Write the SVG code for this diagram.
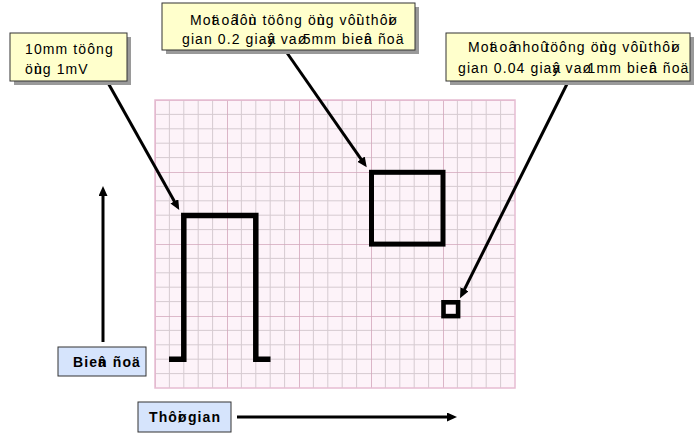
<svg xmlns="http://www.w3.org/2000/svg" width="695" height="433" viewBox="0 0 695 433">
<style>
.t{font-family:"Liberation Sans",Arial,sans-serif;font-size:14px;letter-spacing:1.1px;fill:#000}
.b{font-weight:bold}
.note{fill:#ffffcc;stroke:#333;stroke-width:1}
.shadow{fill:#9a9a9a}
.lab{fill:#d6e4fc;stroke:#333;stroke-width:1}
.wave{fill:none;stroke:#000;stroke-linejoin:miter}
.conn{stroke:#000;stroke-width:3;fill:none}
</style>
<defs>
<marker id="ah" markerUnits="userSpaceOnUse" markerWidth="12" markerHeight="10" refX="4" refY="4.5" orient="auto">
<path d="M0,0 L10,4.5 L0,9 z" fill="#000"/>
</marker>
<pattern id="grid" patternUnits="userSpaceOnUse" x="155" y="100" width="72" height="72">
<rect width="72" height="72" fill="#fdf3f9"/>
<path d="M14.4,0V72M28.8,0V72M43.2,0V72M57.6,0V72M0,14.4H72M0,28.8H72M0,43.2H72M0,57.6H72" stroke="#d6cbd1" stroke-width="1"/>
<path d="M0,0V72M0,0H72" stroke="#d3a6bb" stroke-width="1.6"/>
</pattern>
</defs>
<rect width="695" height="433" fill="#fff"/>
<g id="grid-paper">
<rect x="155" y="100" width="360" height="288" fill="url(#grid)"/>
<rect x="155" y="100" width="360" height="288" fill="none" stroke="#e6bcd2" stroke-width="1.5"/>
</g>
<g id="calibration-pulse">
<path class="wave" stroke-width="5.5" d="M169,359.2 H183.8 V215.5 H255.8 V359.2 H270.5"/>
</g>
<g id="large-square">
<rect class="wave" stroke-width="5" x="371.5" y="172.3" width="71.5" height="71.8"/>
</g>
<g id="small-square">
<rect class="wave" stroke-width="4.6" x="443.5" y="302.3" width="14.6" height="13.8"/>
</g>
<g id="connectors">
<line class="conn" x1="107" y1="81" x2="176.3" y2="204.8" marker-end="url(#ah)"/>
<line class="conn" x1="285" y1="50" x2="363.3" y2="162.4" marker-end="url(#ah)"/>
<line class="conn" x1="567" y1="84" x2="462.7" y2="292.9" marker-end="url(#ah)"/>
<line class="conn" x1="103" y1="342" x2="103" y2="192" marker-end="url(#ah)"/>
<line class="conn" x1="237" y1="417" x2="451" y2="417" marker-end="url(#ah)"/>
</g>
<g id="note-1mv">
<rect class="shadow" x="14" y="37" width="117" height="48"/>
<rect class="note" x="10" y="33" width="117" height="48"/>
<text class="t" xml:space="preserve" x="25" y="54">10mm töông</text>
<text class="t" xml:space="preserve" x="25" y="74">öù<tspan dx="-8.9">ng 1mV</tspan></text>
</g>
<g id="note-large-square">
<rect class="shadow" x="166" y="7" width="253" height="47"/>
<rect class="note" x="162" y="3" width="253" height="47"/>
<text class="t" xml:space="preserve" x="190" y="25">Moä<tspan dx="-8.9">t oâ</tspan><tspan dx="-8.9"> lôù</tspan><tspan dx="-8.9">n töông öù</tspan><tspan dx="-8.9">ng vôù</tspan><tspan dx="-8.9">i thôø</tspan><tspan dx="-9.65">i</tspan></text>
<text class="t" xml:space="preserve" x="182" y="44">gian 0.2 giaâ<tspan dx="-8.9">y vaø</tspan><tspan dx="-9.65"> 5mm bieâ</tspan><tspan dx="-8.9">n ñoä</tspan></text>
</g>
<g id="note-small-square">
<rect class="shadow" x="450" y="37" width="244" height="48"/>
<rect class="note" x="446" y="33" width="244" height="48"/>
<text class="t" xml:space="preserve" x="468" y="52">Moä<tspan dx="-8.9">t oâ</tspan><tspan dx="-8.9"> nhoû</tspan><tspan dx="-8.9"> töông öù</tspan><tspan dx="-8.9">ng vôù</tspan><tspan dx="-8.9">i thôø</tspan><tspan dx="-9.65">i</tspan></text>
<text class="t" xml:space="preserve" x="458" y="73">gian 0.04 giaâ<tspan dx="-8.9">y vaø</tspan><tspan dx="-9.65"> 1mm bieâ</tspan><tspan dx="-8.9">n ñoä</tspan></text>
</g>
<g id="label-amplitude">
<rect class="lab" x="58" y="347" width="88" height="29"/>
<text class="t b" xml:space="preserve" x="73" y="367">Bieâ<tspan dx="-8.88">n ñoä</tspan></text>
</g>
<g id="label-time">
<rect class="lab" x="138" y="402" width="93" height="30"/>
<text class="t b" xml:space="preserve" x="149" y="422">Thôø<tspan dx="-9.65">i gian</tspan></text>
</g>
</svg>
